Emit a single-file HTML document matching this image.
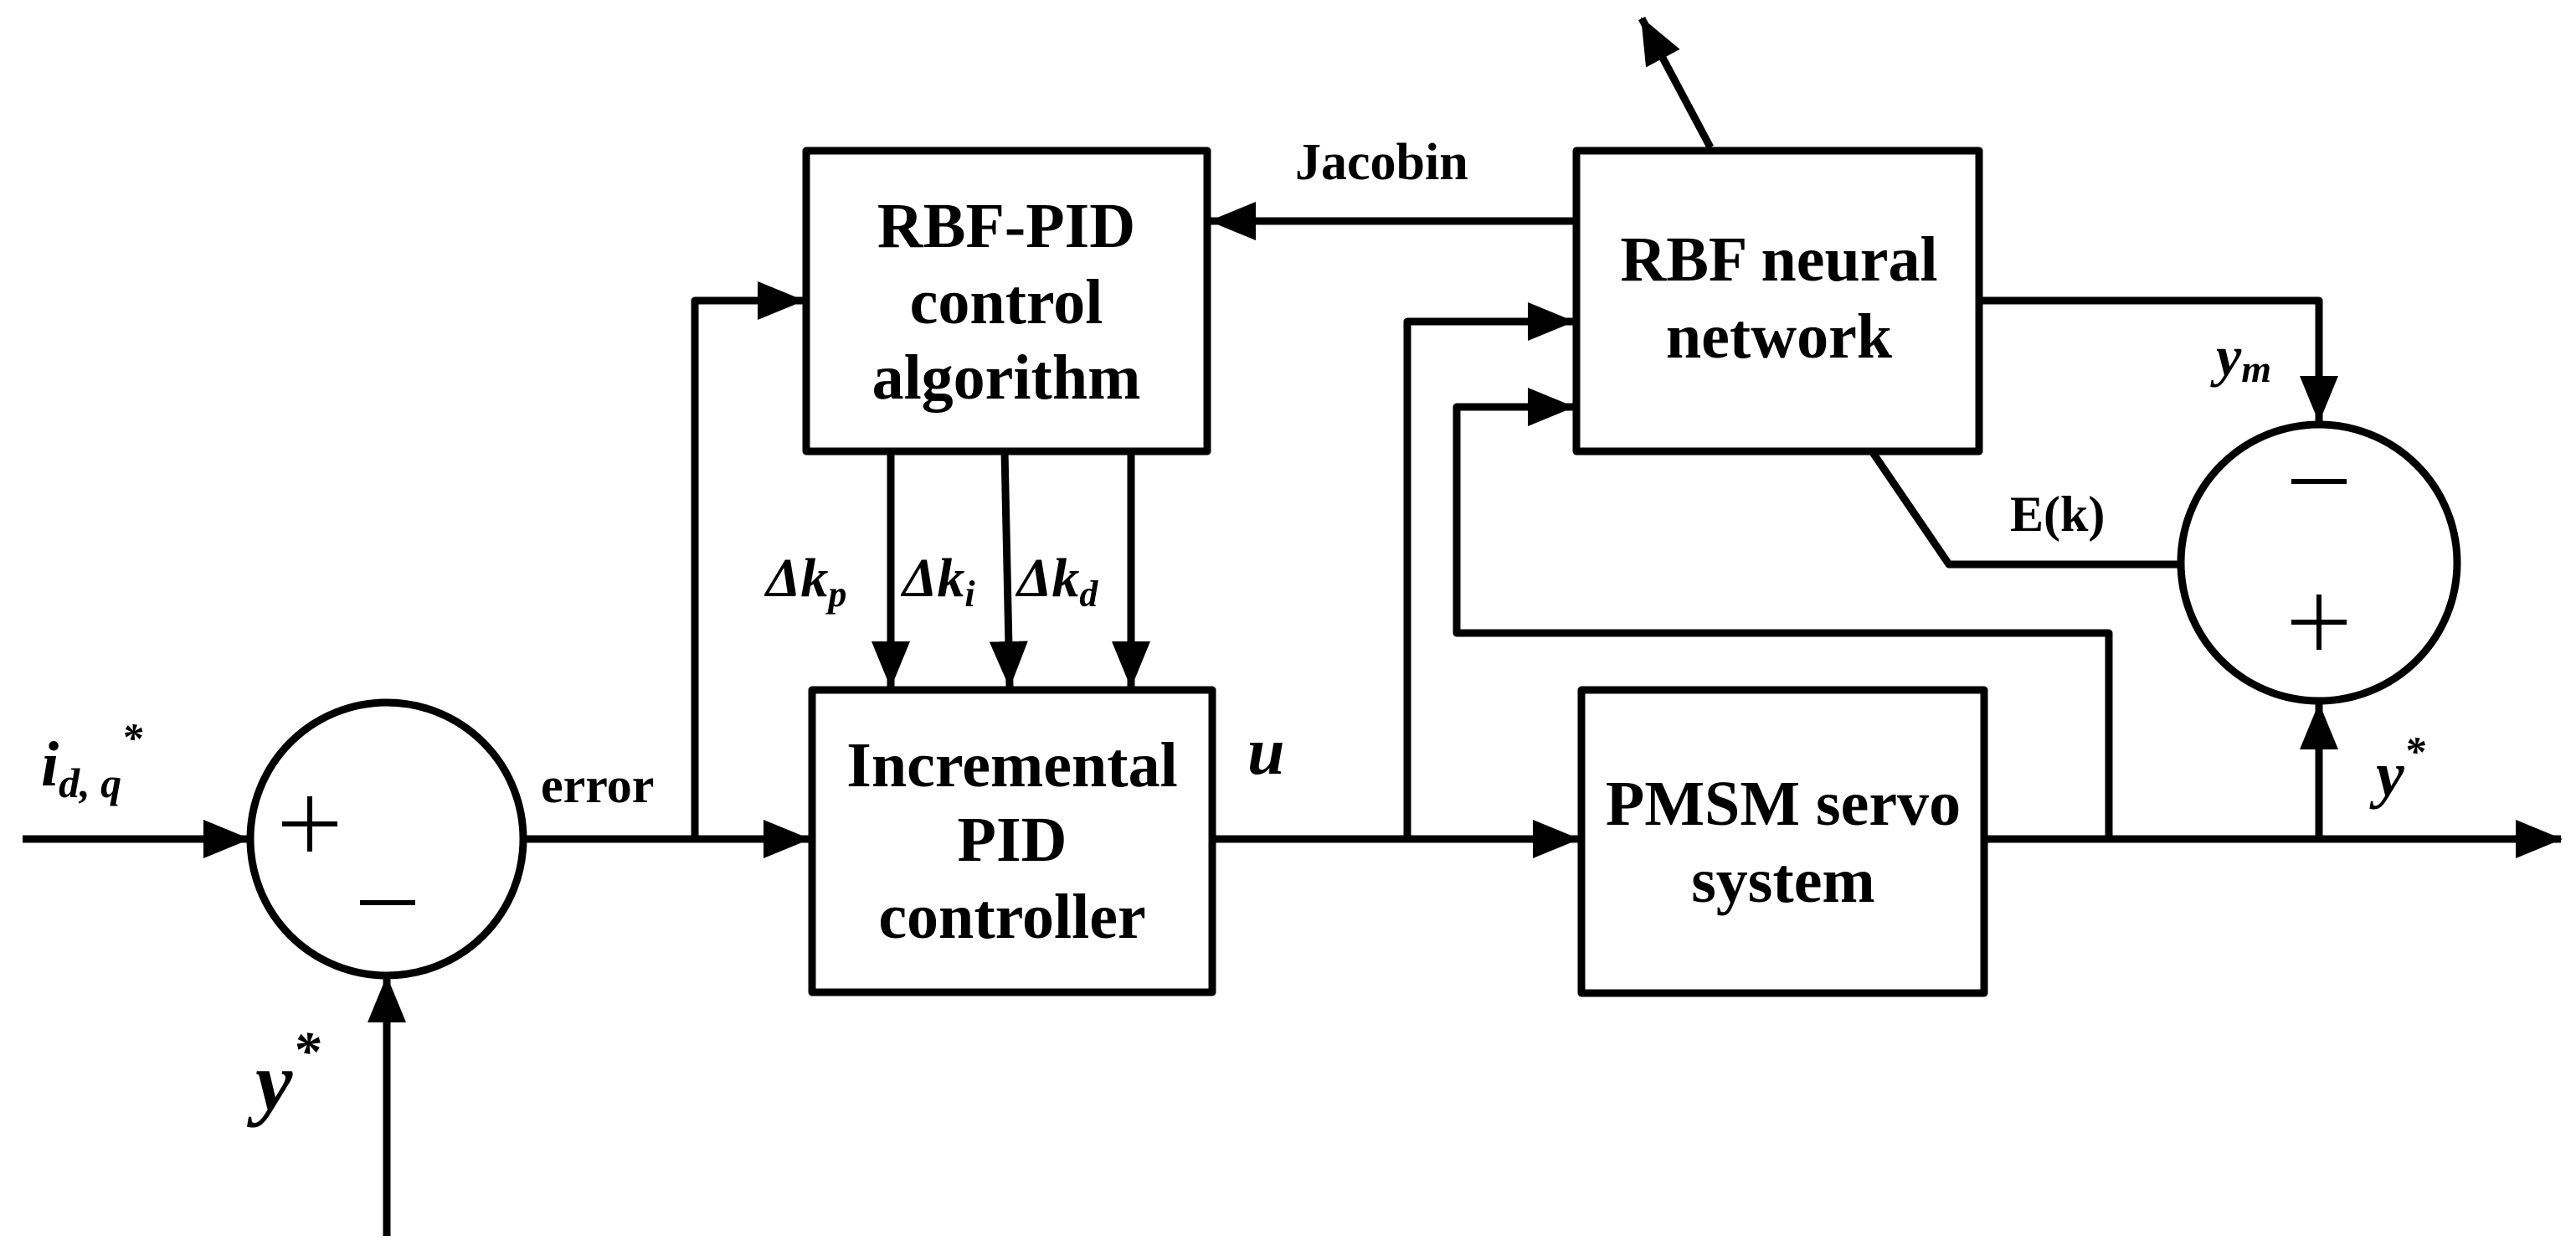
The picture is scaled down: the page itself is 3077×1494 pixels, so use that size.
<!DOCTYPE html>
<html><head><meta charset="utf-8"><style>
html,body{margin:0;padding:0;background:#fff;width:3077px;height:1494px;overflow:hidden}
svg{display:block}
.t{font-family:"Liberation Serif",serif;font-weight:bold;font-size:76px;text-anchor:middle}
.m{font-family:"Liberation Serif",serif;font-weight:bold;font-style:italic}
.s{font-family:"Liberation Serif",serif;font-weight:bold}
</style></head><body>
<svg width="3077" height="1494" viewBox="0 0 3077 1494" xmlns="http://www.w3.org/2000/svg">
<defs>
<marker id="a" markerWidth="56" markerHeight="46" refX="54" refY="23" orient="auto" markerUnits="userSpaceOnUse">
<path d="M0,0 L56,23 L0,46 Z" fill="#000"/></marker>
</defs>
<g fill="none" stroke="#000" stroke-width="9" stroke-linejoin="round">
<rect x="963" y="180" width="479" height="359"/>
<rect x="970" y="824" width="478" height="361"/>
<rect x="1883" y="180" width="481" height="359"/>
<rect x="1889" y="824" width="481" height="362"/>
<circle cx="462" cy="1002" r="163"/>
<circle cx="2770" cy="672" r="165"/>
<line x1="27" y1="1002" x2="297" y2="1002" marker-end="url(#a)"/>
<line x1="462" y1="1476" x2="462" y2="1167" marker-end="url(#a)"/>
<line x1="625" y1="1002" x2="966" y2="1002" marker-end="url(#a)"/>
<polyline points="830,1002 830,359 959,359" marker-end="url(#a)"/>
<line x1="1064" y1="539" x2="1064" y2="820" marker-end="url(#a)"/>
<line x1="1200" y1="539" x2="1206" y2="820" marker-end="url(#a)"/>
<line x1="1351" y1="539" x2="1351" y2="820" marker-end="url(#a)"/>
<line x1="1448" y1="1002" x2="1885" y2="1002" marker-end="url(#a)"/>
<polyline points="1681,1002 1681,384 1879,384" marker-end="url(#a)"/>
<polyline points="2519,1002 2519,756 1740,756 1740,486 1879,486" marker-end="url(#a)"/>
<line x1="1883" y1="264" x2="1446" y2="264" marker-end="url(#a)"/>
<line x1="2043" y1="176" x2="1961" y2="22" marker-end="url(#a)"/>
<line x1="2370" y1="1002" x2="3059" y2="1002" marker-end="url(#a)"/>
<line x1="2770" y1="1002" x2="2770" y2="841" marker-end="url(#a)"/>
<polyline points="2364,359 2770,359 2770,503" marker-end="url(#a)"/>
<polyline points="2236,539 2328,674 2605,674"/>
<line x1="337" y1="984" x2="403" y2="984" stroke-width="6"/>
<line x1="370" y1="951" x2="370" y2="1017" stroke-width="6"/>
<line x1="430" y1="1078" x2="496" y2="1078" stroke-width="6"/>
<line x1="2737" y1="575" x2="2803" y2="575" stroke-width="6"/>
<line x1="2737" y1="743" x2="2803" y2="743" stroke-width="6"/>
<line x1="2770" y1="710" x2="2770" y2="776" stroke-width="6"/>
</g>
<g class="t">
<text x="1202" y="295">RBF-PID</text>
<text x="1202" y="386">control</text>
<text x="1202" y="476">algorithm</text>
<text x="1209" y="939">Incremental</text>
<text x="1209" y="1028">PID</text>
<text x="1209" y="1120">controller</text>
<text x="2125" y="335">RBF neural</text>
<text x="2125" y="427">network</text>
<text x="2130" y="985">PMSM servo</text>
<text x="2130" y="1077">system</text>
</g>
<text class="s" x="1547" y="214" font-size="62">Jacobin</text>
<text class="s" x="646" y="958" font-size="60">error</text>
<text class="s" x="2401" y="634" font-size="60">E(k)</text>
<text class="m" x="49" y="938" font-size="76">i<tspan font-size="50" dy="14">d, q</tspan><tspan font-size="50" dy="-54">*</tspan></text>
<text class="m" x="305" y="1325" font-size="100">y<tspan font-size="66" dy="-48">*</tspan></text>
<text class="m" x="2838" y="950" font-size="76">y<tspan font-size="50" dy="-36">*</tspan></text>
<text class="m" x="2647" y="448" font-size="68">y<tspan font-size="46" dy="8">m</tspan></text>
<text class="m" x="1490" y="924" font-size="80">u</text>
<text class="m" x="915" y="712" font-size="66">Δk<tspan font-size="44" dy="12">p</tspan></text>
<text class="m" x="1078" y="712" font-size="66">Δk<tspan font-size="44" dy="12">i</tspan></text>
<text class="m" x="1215" y="712" font-size="66">Δk<tspan font-size="44" dy="12">d</tspan></text>
</svg>
</body></html>
